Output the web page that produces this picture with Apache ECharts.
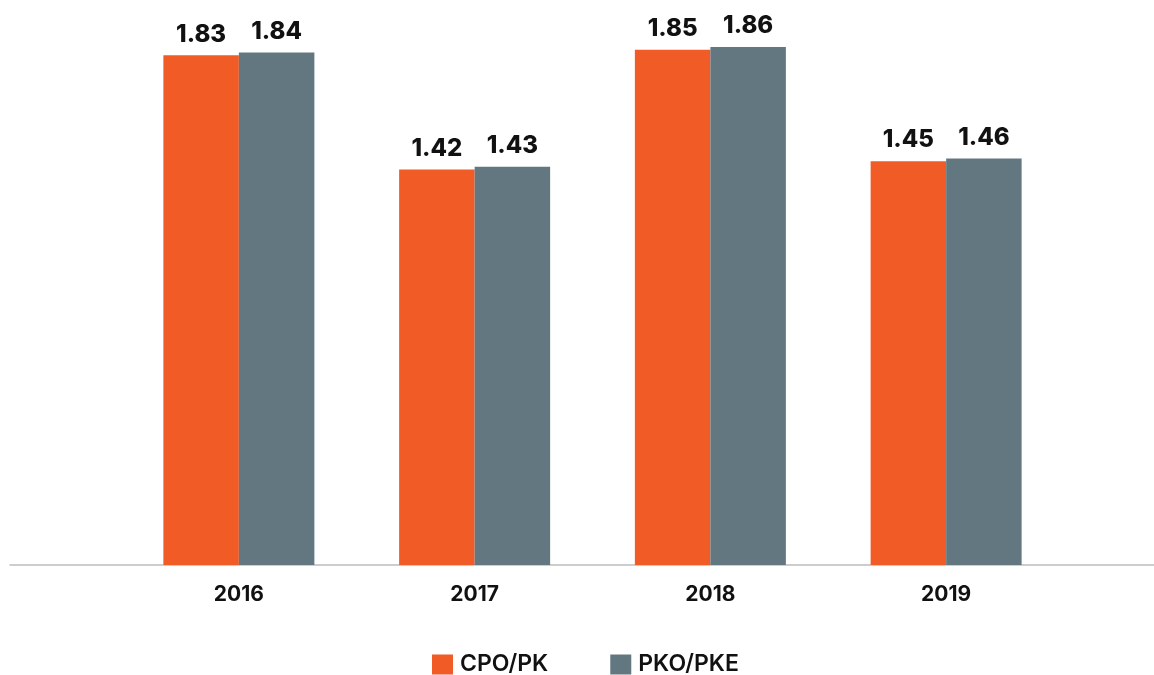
<!DOCTYPE html>
<html>
<head>
<meta charset="utf-8">
<script src="https://cdn.jsdelivr.net/npm/echarts@6/dist/echarts.min.js"></script>
<style>
  html, body { margin: 0; padding: 0; background: #ffffff; }
  #chart { width: 1154px; height: 675px; }
</style>
</head>
<body>
<div id="chart"></div>
<script>
// Yearly ratios for the two series
const years = ['2016', '2017', '2018', '2019'];
const cpoPk = [1.83, 1.42, 1.85, 1.45];
const pkoPke = [1.84, 1.43, 1.86, 1.46];

const ORANGE = '#F15B26';
const SLATE = '#637781';
const FONT = 'Inter, "Noto Sans", sans-serif';

const chart = echarts.init(document.getElementById('chart'), null, { renderer: 'canvas' });

const valueLabel = {
  show: true,
  position: 'top',
  distance: 9,
  color: '#111111',
  fontFamily: FONT,
  fontWeight: 800,
  fontSize: 24,
  formatter: p => p.value.toFixed(2)
};

chart.setOption({
  animation: false,
  backgroundColor: '#ffffff',
  grid: [
    // bars
    { left: 121, right: 90, top: 8, bottom: 110 },
    // full-width baseline
    { left: 10, right: 0, top: 8, bottom: 110 }
  ],
  legend: {
    left: 427,
    top: 648,
    itemWidth: 21,
    itemHeight: 20,
    itemGap: 62,
    icon: 'rect',
    textStyle: { color: '#111111', fontFamily: FONT, fontWeight: 600, fontSize: 23, padding: [0, 0, 0, 2] },
    data: ['CPO/PK', 'PKO/PKE']
  },
  xAxis: [
    {
      type: 'category',
      gridIndex: 0,
      data: years,
      axisLine: { show: false },
      axisTick: { show: false },
      axisLabel: { margin: 19, color: '#111111', fontFamily: FONT, fontWeight: 'bold', fontSize: 21 }
    },
    {
      type: 'category',
      gridIndex: 1,
      data: [''],
      axisLine: { show: true, lineStyle: { color: '#BDBDBD', width: 1.5 } },
      axisTick: { show: false },
      axisLabel: { show: false }
    }
  ],
  yAxis: [
    { type: 'value', gridIndex: 0, min: 0, max: 2, show: false },
    { type: 'value', gridIndex: 1, min: 0, max: 2, show: false }
  ],
  series: [
    {
      name: 'CPO/PK',
      type: 'bar',
      xAxisIndex: 0,
      yAxisIndex: 0,
      data: cpoPk,
      barWidth: 75.5,
      barGap: '0%',
      itemStyle: { color: ORANGE },
      label: valueLabel
    },
    {
      name: 'PKO/PKE',
      type: 'bar',
      xAxisIndex: 0,
      yAxisIndex: 0,
      data: pkoPke,
      barWidth: 75.5,
      barGap: '0%',
      itemStyle: { color: SLATE },
      label: valueLabel
    }
  ]
});
</script>
</body>
</html>
